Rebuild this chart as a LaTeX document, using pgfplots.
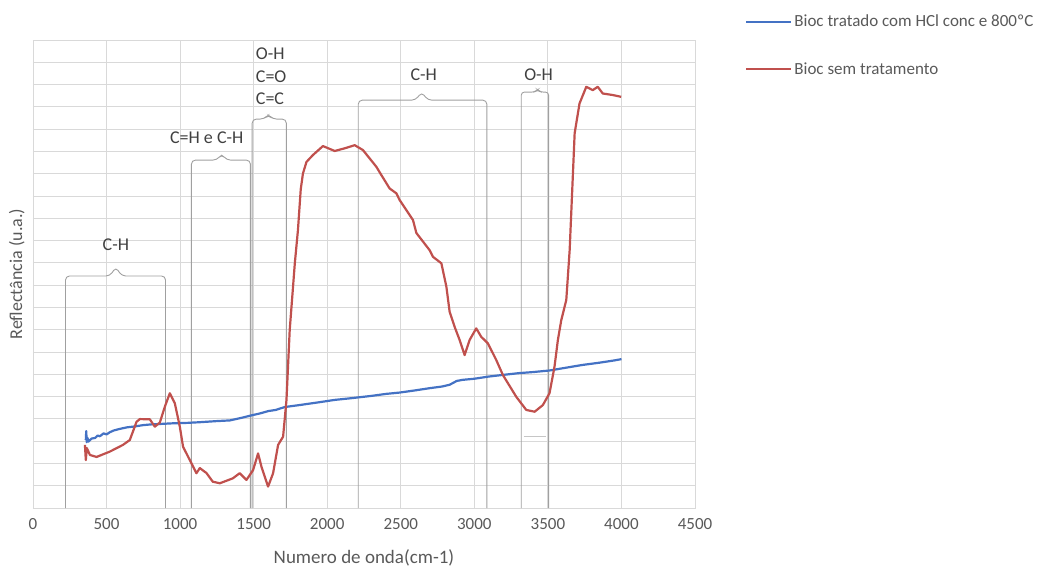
\documentclass[border=0pt]{standalone}
\usepackage{pgfplots}
\pgfplotsset{compat=1.18}
\usepackage{fontspec}
\setmainfont{Carlito}
\definecolor{xlblue}{RGB}{68,114,196}
\definecolor{xlred}{RGB}{192,80,77}
\definecolor{txtgray}{RGB}{89,89,89}
\definecolor{anngray}{RGB}{64,64,64}
\definecolor{gridgray}{RGB}{217,217,217}
\definecolor{brgray}{RGB}{160,160,160}
\begin{document}
\begin{tikzpicture}
\path[use as bounding box] (-33pt,-62pt) rectangle (1011pt,508pt);
\begin{axis}[
  at={(0pt,0pt)}, anchor=south west,
  scale only axis, width=662pt, height=468pt,
  xmin=0, xmax=4500, ymin=0, ymax=21,
  xtick={0,500,...,4500},
  ytick={0,1,...,21}, yticklabels={},
  major tick length=0pt,
  grid=major,
  major grid style={gridgray, line width=0.9pt},
  axis line style={gridgray, line width=0.9pt},
  /pgf/number format/assume math mode=true,
  /pgf/number format/1000 sep={},
  xticklabel style={font=\fontsize{17}{20}\selectfont, text=txtgray, yshift=-7pt},
  xlabel={Numero de onda(cm-1)},
  xlabel style={font=\fontsize{19}{22}\selectfont, text=txtgray, yshift=-13pt},
  ylabel={Reflectância (u.a.)},
  ylabel style={font=\fontsize{18}{21}\selectfont, text=txtgray, yshift=-2pt},
  legend style={at={(1.0755,1.058)}, anchor=north west, draw=none, fill=none,
    font=\fontsize{17}{20}\selectfont, text=txtgray, row sep=30pt, inner sep=0pt},
  legend cell align=left,
  legend image code/.code={\draw[#1] (0pt,0pt) -- (45pt,0pt);},
]
% brackets
\draw[brgray, line width=0.9pt, rounded corners=4pt] (axis cs:221,0) -- (axis cs:221,10.41) -- (axis cs:523,10.41) -- (axis cs:563,10.81) -- (axis cs:603,10.41) -- (axis cs:901,10.41) -- (axis cs:901,0);
\draw[brgray, line width=0.9pt, rounded corners=4pt] (axis cs:1077,0) -- (axis cs:1077,15.61) -- (axis cs:1250,15.61) -- (axis cs:1283,15.88) -- (axis cs:1316,15.61) -- (axis cs:1478,15.61) -- (axis cs:1478,0);
\draw[brgray, line width=0.9pt, rounded corners=4pt] (axis cs:1490,0) -- (axis cs:1490,17.45) -- (axis cs:1570,17.45) -- (axis cs:1600,17.65) -- (axis cs:1630,17.45) -- (axis cs:1722,17.45) -- (axis cs:1722,0);
\draw[brgray, line width=0.9pt, rounded corners=4pt] (axis cs:2211,0) -- (axis cs:2211,18.30) -- (axis cs:2600,18.30) -- (axis cs:2642,18.66) -- (axis cs:2684,18.30) -- (axis cs:3085,18.30) -- (axis cs:3085,0);
\draw[brgray, line width=0.9pt, rounded corners=3pt] (axis cs:3319,0) -- (axis cs:3319,18.66) -- (axis cs:3410,18.66) -- (axis cs:3430,18.78) -- (axis cs:3450,18.66) -- (axis cs:3505,18.66) -- (axis cs:3505,0);
\draw[brgray!60, line width=0.7pt] (axis cs:3335,3.22) -- (axis cs:3490,3.22);
% labels
\node[font=\fontsize{18}{21}\selectfont, text=anngray] at (axis cs:563,11.8) {C-H};
\node[font=\fontsize{18}{21}\selectfont, text=anngray] at (axis cs:1181,16.6) {C=H e C-H};
\node[font=\fontsize{18}{21}\selectfont, text=anngray, anchor=west, inner xsep=0pt] at (axis cs:1514,20.37) {O-H};
\node[font=\fontsize{18}{21}\selectfont, text=anngray, anchor=west, inner xsep=0pt] at (axis cs:1514,19.34) {C=O};
\node[font=\fontsize{18}{21}\selectfont, text=anngray, anchor=west, inner xsep=0pt] at (axis cs:1514,18.35) {C=C};
\node[font=\fontsize{18}{21}\selectfont, text=anngray] at (axis cs:2656,19.42) {C-H};
\node[font=\fontsize{18}{21}\selectfont, text=anngray] at (axis cs:3437,19.42) {O-H};
\addplot[xlblue, line width=2.2pt, line join=round] coordinates {
(359,3.05) (362,3.45) (365,2.95) (370,3.15) (378,2.98) (387,3.05) (400,3.12)
(421,3.14) (440,3.25) (455,3.22) (480,3.35) (500,3.30) (522,3.40) (550,3.48)
(590,3.55) (640,3.62) (692,3.66) (750,3.72) (800,3.75) (862,3.77) (950,3.80)
(1050,3.82) (1134,3.85) (1250,3.90) (1338,3.93) (1420,4.05) (1500,4.18)
(1541,4.24) (1600,4.35) (1650,4.40) (1711,4.53) (1813,4.62) (1950,4.75)
(2050,4.85) (2153,4.92) (2300,5.03) (2400,5.12) (2493,5.18) (2600,5.28)
(2700,5.38) (2780,5.45) (2832,5.53) (2880,5.70) (2920,5.75) (3000,5.80)
(3100,5.90) (3192,5.97) (3300,6.05) (3400,6.10) (3511,6.17) (3600,6.27)
(3736,6.42) (3850,6.52) (3950,6.62) (4000,6.68)
};
\addlegendentry{Bioc tratado com HCl conc e 800ºC}
\addplot[xlred, line width=2.2pt, line join=round] coordinates {
(353,2.83) (359,2.15) (366,2.69) (387,2.38) (432,2.29) (522,2.53) (611,2.83)
(658,3.05) (704,3.87) (726,3.99) (794,3.98) (828,3.65) (862,3.83) (896,4.54)
(930,5.15) (964,4.70) (998,3.65) (1020,2.75) (1066,2.15) (1111,1.56)
(1134,1.79) (1179,1.57) (1222,1.18) (1270,1.11) (1358,1.33) (1405,1.56)
(1451,1.26) (1496,1.70) (1530,2.45) (1553,1.85) (1598,0.96) (1632,1.56)
(1666,2.83) (1700,3.20) (1723,4.84) (1745,7.98) (1780,11.0) (1801,12.47)
(1820,14.30) (1835,15.01) (1859,15.53) (1903,15.84) (1971,16.24) (2051,16.02) (2119,16.14)
(2187,16.28) (2243,16.06) (2334,15.31) (2368,14.94) (2424,14.34) (2470,14.12)
(2492,13.82) (2583,12.92) (2606,12.34) (2696,11.57) (2719,11.27) (2776,10.98)
(2810,9.93) (2832,8.81) (2866,8.13) (2900,7.54) (2934,6.86) (2968,7.54)
(3013,8.06) (3047,7.68) (3092,7.39) (3149,6.64) (3194,5.97) (3285,4.99)
(3353,4.40) (3410,4.32) (3466,4.62) (3511,5.15) (3545,6.34) (3568,7.54)
(3591,8.43) (3625,9.33) (3648,11.57) (3682,16.82) (3715,18.15) (3761,18.90)
(3805,18.75) (3839,18.90) (3873,18.60) (3941,18.53) (3998,18.45)
};
\addlegendentry{Bioc sem tratamento}
\end{axis}
\end{tikzpicture}
\end{document}
